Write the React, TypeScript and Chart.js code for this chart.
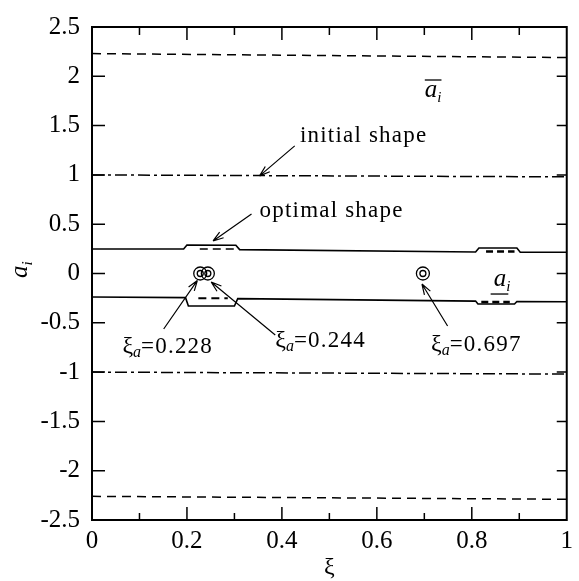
import React, { useEffect, useRef } from "react";
import { Chart, registerables } from "chart.js";
Chart.register(...registerables);

const FONT = "'Liberation Serif', 'DejaVu Serif', serif";

// ---- data ----
const boundX = [0, 1];
const upperBoundY = [2.23, 2.19];
const lowerBoundY = [-2.26, -2.29];
const initialUpperY = [1.0, 0.98];
const initialLowerY = [-1.0, -1.02];
const optUpperX = [0, 0.193, 0.2, 0.303, 0.311, 0.808, 0.815, 0.895, 0.902, 1];
const optUpperY = [0.249, 0.248, 0.289, 0.287, 0.242, 0.218, 0.259, 0.258, 0.216, 0.215];
const optLowerX = [0, 0.197, 0.203, 0.3, 0.307, 0.808, 0.813, 0.89, 0.895, 1];
const optLowerY = [-0.239, -0.245, -0.33, -0.33, -0.255, -0.28, -0.31, -0.31, -0.284, -0.286];
const innerUpperX = [0.227, 0.3];
const innerUpperY = [0.248, 0.248];
const innerLowerX = [0.224, 0.286];
const innerLowerY = [-0.25, -0.25];
const innerRightUpperX = [0.83, 0.89];
const innerRightUpperY = [0.222, 0.222];
const innerRightLowerX = [0.82, 0.88];
const innerRightLowerY = [-0.29, -0.29];
const actuatorX = [0.228, 0.244, 0.697];
const actuatorY = [0, 0, 0];

const xMin = 0, xMax = 1, xStep = 0.2, xMinorStep = 0.1;
const yMin = -2.5, yMax = 2.5, yStep = 0.5;

const initialLabel = "initial shape";
const optimalLabel = "optimal shape";
// annotation anchors (data coordinates)
const initialText = { x: 0.438, y: 1.335 };
const initialArrow = { x0: 0.427, y0: 1.294, x1: 0.353, y1: 0.99 };
const optimalText = { x: 0.353, y: 0.574 };
const optimalArrow = { x0: 0.336, y0: 0.604, x1: 0.255, y1: 0.33 };
const xiText = [
  { x: 0.064, y: -0.807 },
  { x: 0.386, y: -0.746 },
  { x: 0.714, y: -0.787 },
];
const xiArrows = [
  { x0: 0.151, y0: -0.563, x1: 0.222, y1: -0.07 },
  { x0: 0.386, y0: -0.624, x1: 0.251, y1: -0.086 },
  { x0: 0.749, y0: -0.533, x1: 0.695, y1: -0.107 },
];
const upperBarLabel = { x: 0.701, y: 1.79 };
const lowerBarLabel = { x: 0.846, y: -0.127 };

const pts = (xs: number[], ys: number[]) => xs.map((x, i) => ({ x, y: ys[i] }));

type Part = { text: string; size: number; italic?: boolean; dy?: number; sp?: number };
function drawParts(ctx: CanvasRenderingContext2D, x: number, y: number, parts: Part[]) {
  let cx = x;
  for (const p of parts) {
    ctx.font = `${p.italic ? "italic " : ""}${p.size}px ${FONT}`;
    (ctx as any).letterSpacing = (p.sp ?? 0) + "px";
    ctx.fillText(p.text, cx, y + (p.dy ?? 0));
    cx += ctx.measureText(p.text).width;
  }
  (ctx as any).letterSpacing = "0px";
  return cx;
}

function arrow(ctx: CanvasRenderingContext2D, x0: number, y0: number, x1: number, y1: number) {
  ctx.beginPath();
  ctx.moveTo(x0, y0);
  ctx.lineTo(x1, y1);
  const ang = Math.atan2(y1 - y0, x1 - x0);
  const L = 11, a = 0.32;
  ctx.moveTo(x1, y1);
  ctx.lineTo(x1 - L * Math.cos(ang - a), y1 - L * Math.sin(ang - a));
  ctx.moveTo(x1, y1);
  ctx.lineTo(x1 - L * Math.cos(ang + a), y1 - L * Math.sin(ang + a));
  ctx.stroke();
}

const framePlugin = {
  id: "frameAndNotes",
  afterDraw(chart: any) {
    const { ctx, chartArea: a, scales } = chart;
    const xs = scales.x, ys = scales.y;
    ctx.save();
    ctx.strokeStyle = "#000";
    ctx.fillStyle = "#000";
    ctx.lineWidth = 2;
    ctx.strokeRect(a.left, a.top, a.right - a.left, a.bottom - a.top);
    ctx.lineWidth = 1.5;
    ctx.beginPath();
    const nx = Math.round((xMax - xMin) / xMinorStep);
    for (let i = 1; i < nx; i++) {
      const v = xMin + i * xMinorStep;
      const px = xs.getPixelForValue(v);
      const major = i % 2 === 0;
      ctx.moveTo(px, a.bottom);
      ctx.lineTo(px, a.bottom - (major ? 13 : 7));
      ctx.moveTo(px, a.top);
      ctx.lineTo(px, a.top + (major ? 13 : 8));
    }
    const ny = Math.round((yMax - yMin) / yStep);
    for (let i = 1; i < ny; i++) {
      const v = yMin + i * yStep;
      const py = ys.getPixelForValue(v);
      ctx.moveTo(a.left, py);
      ctx.lineTo(a.left + 13, py);
      ctx.moveTo(a.right, py);
      ctx.lineTo(a.right - 10, py);
    }
    ctx.stroke();

    // annotations
    ctx.lineWidth = 1.2;
    ctx.textBaseline = "alphabetic";
    ctx.textAlign = "left";
    const P = (p: { x: number; y: number }) => [xs.getPixelForValue(p.x), ys.getPixelForValue(p.y)];
    const A = (r: { x0: number; y0: number; x1: number; y1: number }) =>
      arrow(ctx, xs.getPixelForValue(r.x0), ys.getPixelForValue(r.y0), xs.getPixelForValue(r.x1), ys.getPixelForValue(r.y1));

    let [tx, ty] = P(initialText);
    drawParts(ctx, tx, ty, [{ text: initialLabel, size: 23, sp: 1.2 }]);
    A(initialArrow);
    [tx, ty] = P(optimalText);
    drawParts(ctx, tx, ty, [{ text: optimalLabel, size: 23, sp: 1.2 }]);
    A(optimalArrow);

    actuatorX.forEach((v, i) => {
      const [lx, ly] = P(xiText[i]);
      drawParts(ctx, lx, ly, [
        { text: "\u03BE", size: 24 },
        { text: "a", size: 16, italic: true, dy: 4 },
        { text: "=" + v.toFixed(3), size: 23, sp: 1.2 },
      ]);
      A(xiArrows[i]);
    });

    // overline a_i
    [tx, ty] = P(upperBarLabel);
    let ex = drawParts(ctx, tx, ty, [
      { text: "a", size: 25, italic: true },
      { text: "i", size: 15, italic: true, dy: 5 },
    ]);
    ctx.lineWidth = 1.3;
    ctx.beginPath();
    ctx.moveTo(tx, ty - 17);
    ctx.lineTo(ex, ty - 17);
    ctx.stroke();

    // underline a_i
    [tx, ty] = P(lowerBarLabel);
    ex = drawParts(ctx, tx, ty, [
      { text: "a", size: 25, italic: true },
      { text: "i", size: 15, italic: true, dy: 5 },
    ]);
    ctx.beginPath();
    ctx.moveTo(tx - 3, ty + 8);
    ctx.lineTo(ex - 2, ty + 8);
    ctx.stroke();

    // axis titles
    ctx.textAlign = "center";
    ctx.textBaseline = "middle";
    ctx.font = `24px ${FONT}`;
    ctx.fillText("\u03BE", (a.left + a.right) / 2, 568);

    ctx.save();
    ctx.translate(27, 278);
    ctx.rotate(-Math.PI / 2);
    ctx.textAlign = "left";
    ctx.textBaseline = "alphabetic";
    drawParts(ctx, 0, 0, [
      { text: "a", size: 25, italic: true },
      { text: "i", size: 15, italic: true, dy: 5 },
    ]);
    ctx.restore();
    ctx.restore();
  },
};

export default function App() {
  const ref = useRef<HTMLCanvasElement>(null);
  useEffect(() => {
    let chart: Chart | null = null;
    let cancelled = false;
    const line = (data: any[], dash: number[] = [], width = 1.5) => ({
      data,
      borderColor: "#000",
      borderWidth: width,
      borderDash: dash,
      pointRadius: 0,
      fill: false,
      tension: 0,
    });
    const build = () => {
      if (cancelled || !ref.current) return;
      chart = new Chart(ref.current, {
        type: "line",
        data: {
          datasets: [
            line(pts(boundX, upperBoundY), [9, 6]),
            line(pts(boundX, lowerBoundY), [9, 6]),
            line(pts(boundX, initialUpperY), [12, 4, 3, 4]),
            line(pts(boundX, initialLowerY), [12, 4, 3, 4]),
            line(pts(optUpperX, optUpperY), [], 1.6),
            line(pts(optLowerX, optLowerY), [], 1.6),
            line(pts(innerUpperX, innerUpperY), [8, 5], 1.5),
            line(pts(innerLowerX, innerLowerY), [8, 5], 2),
            line(pts(innerRightUpperX, innerRightUpperY), [7, 4], 2.5),
            line(pts(innerRightLowerX, innerRightLowerY), [7, 4], 2.5),
            {
              data: pts(actuatorX, actuatorY),
              showLine: false,
              pointRadius: 6.5,
              pointBorderColor: "#000",
              pointBackgroundColor: "rgba(0,0,0,0)",
              pointBorderWidth: 1.3,
            } as any,
            {
              data: pts(actuatorX, actuatorY),
              showLine: false,
              pointRadius: 3,
              pointBorderColor: "#000",
              pointBackgroundColor: "rgba(0,0,0,0)",
              pointBorderWidth: 1.3,
            } as any,
          ],
        },
        options: {
          animation: false,
          responsive: false,
          events: [],
          layout: { padding: { top: 24, right: 5, left: 0, bottom: 0 } },
          plugins: { legend: { display: false }, tooltip: { enabled: false } },
          scales: {
            x: {
              type: "linear",
              min: xMin,
              max: xMax,
              grid: { display: false, drawTicks: false },
              border: { display: false },
              ticks: {
                stepSize: xStep,
                color: "#000",
                padding: 6,
                font: { family: FONT, size: 25 },
                callback: (v: any) => String(Math.round(Number(v) * 10) / 10),
              },
              afterFit: (s: any) => {
                s.height = 61;
              },
            },
            y: {
              type: "linear",
              min: yMin,
              max: yMax,
              grid: { display: false, drawTicks: false },
              border: { display: false },
              ticks: {
                stepSize: yStep,
                color: "#000",
                padding: 12,
                font: { family: FONT, size: 25 },
                callback: (v: any) => String(Math.round(Number(v) * 10) / 10),
              },
              afterFit: (s: any) => {
                s.width = 92;
              },
            },
          },
        } as any,
        plugins: [framePlugin],
      });
    };
    const fonts: any = (document as any).fonts;
    if (fonts && fonts.load) {
      Promise.all([
        fonts.load(`25px 'Liberation Serif'`, "0123456789.-abc"),
        fonts.load(`italic 25px 'Liberation Serif'`, "ai"),
      ])
        .catch(() => null)
        .then(() => build());
    } else {
      build();
    }
    return () => {
      cancelled = true;
      if (chart) chart.destroy();
    };
  }, []);
  return (
    <div style={{ position: "absolute", left: 0, top: 0, width: 579, height: 581, background: "#fff" }}>
      <span style={{ fontFamily: "'Liberation Serif'", position: "absolute", left: -9999, top: 0 }}>
        a <i>a</i>
      </span>
      <canvas ref={ref} width={579} height={581} />
    </div>
  );
}
